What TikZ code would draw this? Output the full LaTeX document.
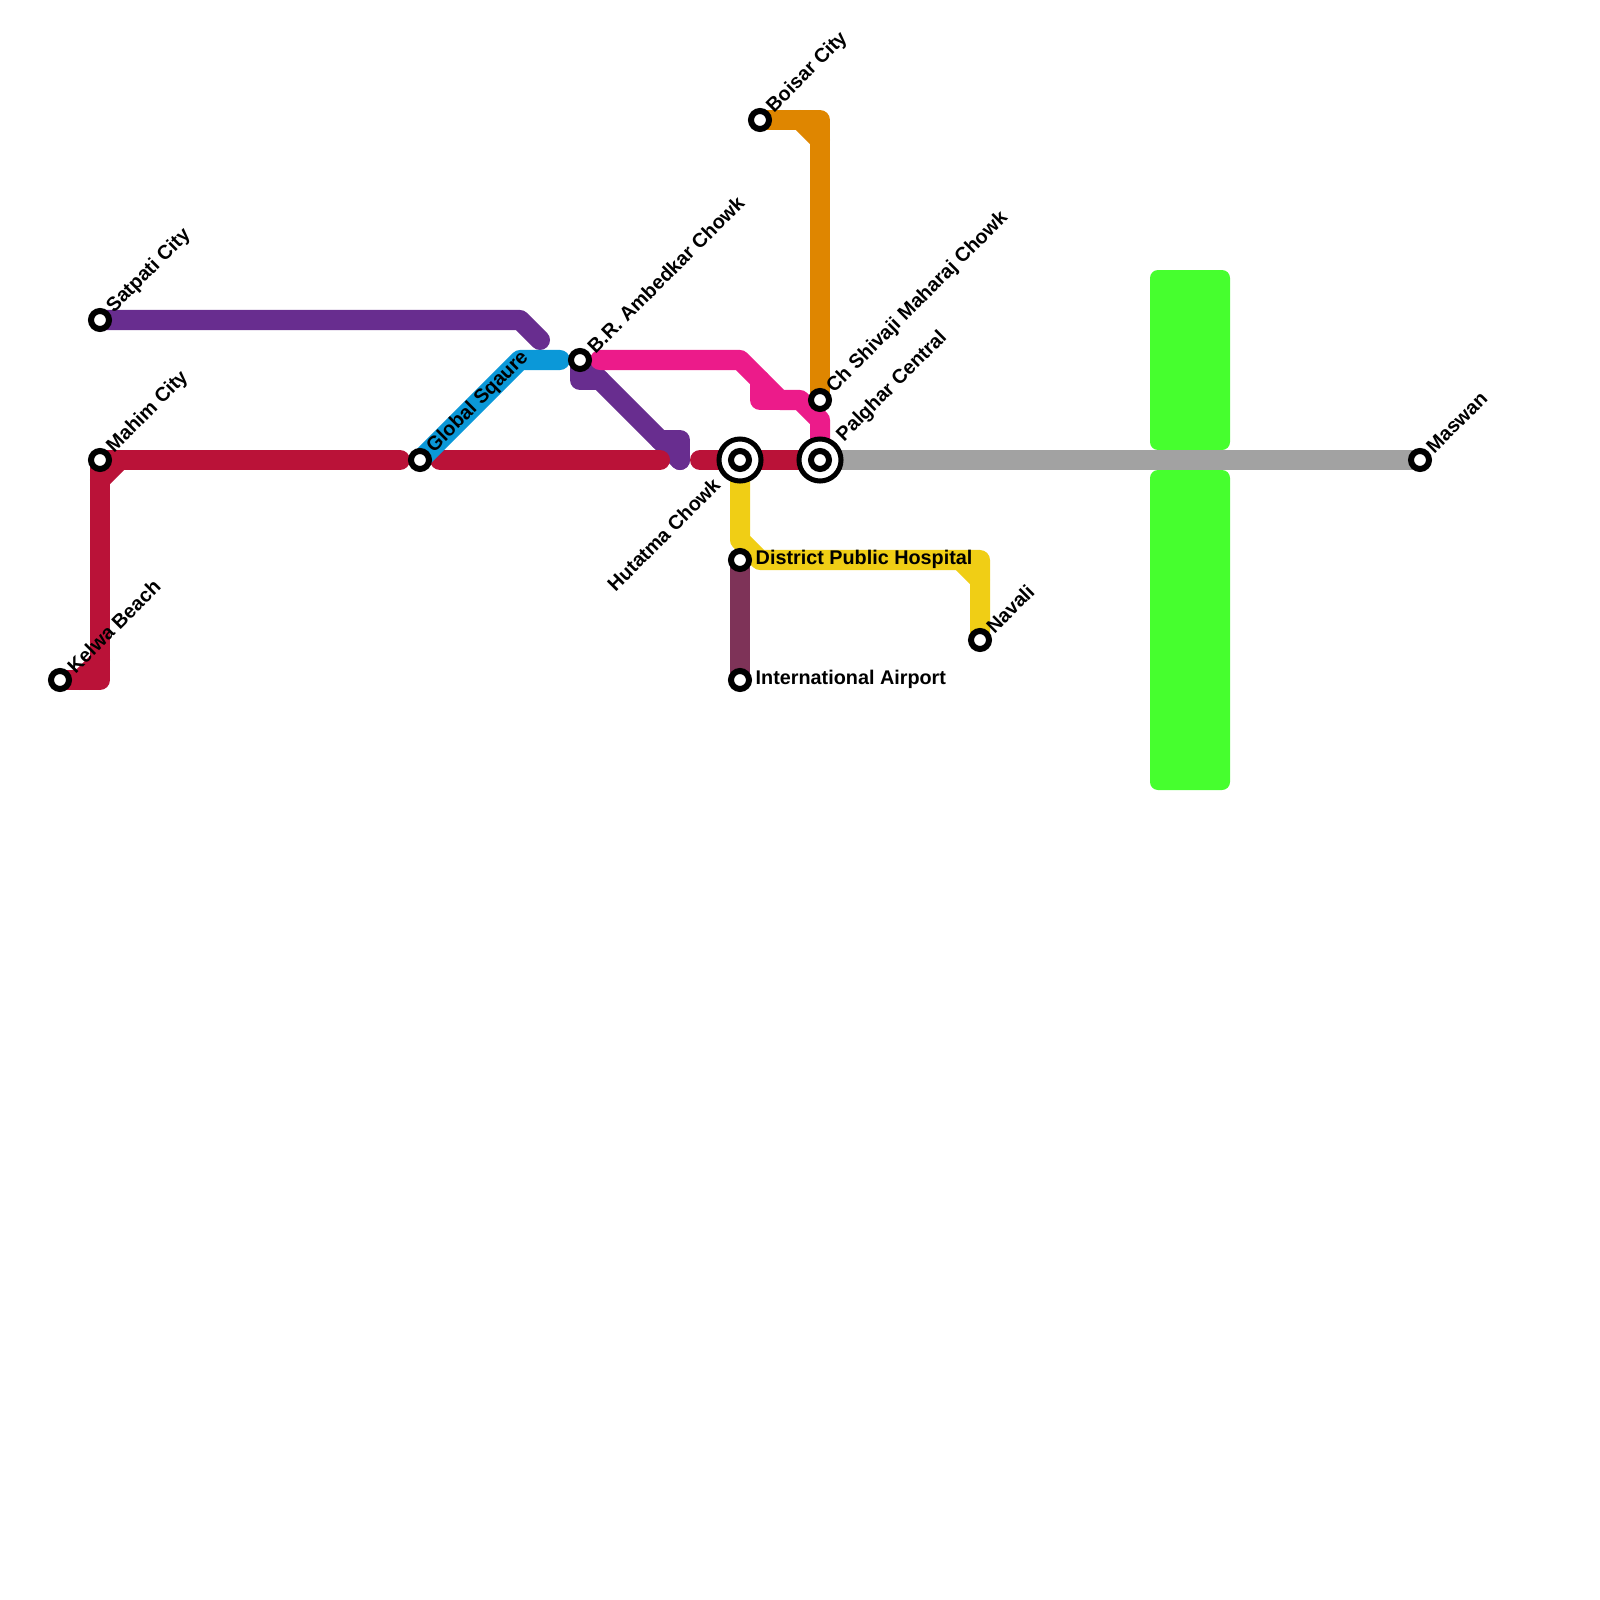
\documentclass[tikz,border=0pt]{standalone}
\usepackage{fontspec}
\setmainfont{Liberation Sans}
\usetikzlibrary{backgrounds}
\definecolor{linecrimson}{HTML}{BA1238}
\definecolor{linepurple}{HTML}{682D8F}
\definecolor{lineblue}{HTML}{0B98D8}
\definecolor{linepink}{HTML}{EC1B8A}
\definecolor{lineorange}{HTML}{DF8600}
\definecolor{lineyellow}{HTML}{F0CE15}
\definecolor{linemaroon}{HTML}{7E3358}
\definecolor{linegray}{HTML}{A2A2A2}
\definecolor{blockgreen}{HTML}{46FF2E}
\tikzset{
  metro/.style={line width=0.2cm,line cap=round,line join=round},
  station/.style={circle,draw=black,fill=white,line width=0.06cm,minimum size=0.18cm,inner sep=0pt},
  hub/.style={circle,draw=black,fill=white,line width=0.05cm,minimum size=0.42cm,inner sep=0pt},
  stnlabel/.style={font=\fontsize{5.63pt}{7pt}\selectfont\bfseries,inner sep=0pt,anchor=west},
  diaglabel/.style={stnlabel,rotate=45}
}
\begin{document}
\begin{tikzpicture}[x=0.01cm,y=-0.01cm]
  \useasboundingbox (0,0) rectangle (1600,1600);
  \node[station] (kelwa) at (60,680) {};
  \node[station] (mahim) at (100,460) {};
  \node[station] (satpati) at (100,320) {};
  \node[station] (globalsq) at (420,460) {};
  \node[station] (ambedkar) at (580,360) {};
  \node[hub] (hutatma) at (740,460) {};
  \node[station] (hutatmain) at (hutatma) {};
  \node[hub] (palghar) at (820,460) {};
  \node[station] (palgharin) at (palghar) {};
  \node[station] (shivaji) at (820,400) {};
  \node[station] (boisar) at (760,120) {};
  \node[station] (hospital) at (740,560) {};
  \node[station] (airport) at (740,680) {};
  \node[station] (navali) at (980,640) {};
  \node[station] (maswan) at (1420,460) {};
  \begin{scope}[on background layer]
    \fill[blockgreen,rounded corners=0.08cm] (1150,270) rectangle (1230,450);
    \fill[blockgreen,rounded corners=0.08cm] (1150,470) rectangle (1230,790);
    \draw[metro,linegray] (palghar.center) -- (maswan.center);
    % purple
    \draw[metro,linepurple] (satpati.center) -- (520,320) -- (540,340);
    \draw[metro,linepurple] (ambedkar.center) -- (680,460);
    \draw[metro,linepurple] (ambedkar.center) -- (580,380) -- (600,380);
    \draw[metro,linepurple] (660,440) -- (680,440) -- (680,460);
    % crimson
    \draw[metro,linecrimson] (kelwa.center) -- (100,680) -- (mahim.center) -- (400,460);
    \draw[metro,linecrimson] (80,680) -- (100,660);
    \draw[metro,linecrimson] (100,480) -- (120,460);
    \draw[metro,linecrimson] (440,460) -- (660,460);
    \draw[metro,linecrimson] (700,460) -- (palghar.center);
    % blue
    \draw[metro,lineblue] (globalsq.center) -- (520,360) -- (560,360);
    % orange
    \draw[metro,lineorange] (boisar.center) -- (820,120) -- (shivaji.center);
    \draw[metro,lineorange] (800,120) -- (820,140);
    % pink
    \draw[metro,linepink] (600,360) -- (740,360) -- (780,400) -- (800,400) -- (820,420) -- (palghar.center);
    \draw[metro,linepink] (760,380) -- (760,400) -- (780,400);
    % yellow
    \draw[metro,lineyellow] (hutatma.center) -- (740,540) -- (760,560) -- (980,560) -- (navali.center);
    \draw[metro,lineyellow] (960,560) -- (980,580);
    % maroon
    \draw[metro,linemaroon] (hospital.center) -- (airport.center);
  \end{scope}
  \node[diaglabel] (kelwalabel) at (70,670) {Kelwa Beach};
  \node[diaglabel] (mahimlabel) at (110,450) {Mahim City};
  \node[diaglabel] (satpatilabel) at (110,310) {Satpati City};
  \node[diaglabel] (globallabel) at (430,450) {Global Sqaure};
  \node[diaglabel] (ambedkarlabel) at (590,350) {B.R. Ambedkar Chowk};
  \node[diaglabel] (shivajilabel) at (830,390) {Ch Shivaji Maharaj Chowk};
  \node[diaglabel] (palgharlabel) at (840,439) {Palghar Central};
  \node[diaglabel] (boisarlabel) at (770,110) {Boisar City};
  \node[diaglabel] (navalilabel) at (989,630) {Navali};
  \node[diaglabel] (maswanlabel) at (1429,450) {Maswan};
  \node[diaglabel,anchor=east] (hutatmalabel) at (717,481) {Hutatma Chowk};
  \node[stnlabel] (hospitallabel) at (755,559) {District Public Hospital};
  \node[stnlabel] (airportlabel) at (755,679) {International Airport};
\end{tikzpicture}
\end{document}
